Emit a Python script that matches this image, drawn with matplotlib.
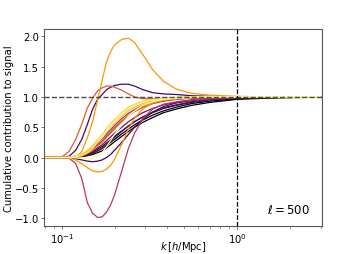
import numpy as np
import matplotlib
matplotlib.use('Agg')
import matplotlib.pyplot as plt

# k values (h/Mpc) shared by every curve
k = [0.08, 0.10, 0.11, 0.12, 0.13, 0.14, 0.15, 0.16, 0.17, 0.18, 0.19, 0.20,
     0.22, 0.24, 0.26, 0.29, 0.33, 0.38, 0.45, 0.55, 0.70, 1.0, 1.5, 3.0]

# cumulative contribution curves, one list per bin
black_1 = [0, 0, 0, 0.005, 0.015, 0.03, 0.05, 0.08, 0.11, 0.16, 0.21, 0.26, 0.35, 0.43, 0.50, 0.58, 0.66, 0.74, 0.80, 0.86, 0.91, 0.96, 0.98, 1.0]
black_2 = [0, 0, 0, 0.005, 0.02, 0.04, 0.07, 0.11, 0.15, 0.20, 0.25, 0.30, 0.39, 0.47, 0.54, 0.62, 0.70, 0.77, 0.83, 0.89, 0.93, 0.97, 0.99, 1.0]
black_3 = [0, 0, 0, 0.01, 0.025, 0.05, 0.09, 0.14, 0.18, 0.24, 0.29, 0.35, 0.44, 0.52, 0.59, 0.67, 0.74, 0.81, 0.86, 0.91, 0.95, 0.98, 0.99, 1.0]
purple_dip = [0, 0, -0.005, -0.02, -0.04, -0.06, -0.07, -0.06, -0.04, 0.0, 0.05, 0.12, 0.25, 0.38, 0.50, 0.63, 0.75, 0.84, 0.90, 0.94, 0.97, 0.99, 1.0, 1.0]
purple_peak = [0, 0, 0.02, 0.12, 0.30, 0.55, 0.80, 0.96, 1.04, 1.12, 1.16, 1.19, 1.21, 1.21, 1.18, 1.12, 1.07, 1.05, 1.04, 1.02, 1.01, 1.0, 1.0, 1.0]
purple_2 = [0, 0, 0.0, 0.005, 0.02, 0.04, 0.07, 0.11, 0.15, 0.21, 0.27, 0.33, 0.43, 0.52, 0.59, 0.67, 0.75, 0.82, 0.87, 0.92, 0.95, 0.98, 0.99, 1.0]
purple_3 = [0, 0, 0.0, 0.01, 0.03, 0.06, 0.10, 0.16, 0.21, 0.28, 0.34, 0.40, 0.50, 0.59, 0.66, 0.74, 0.81, 0.87, 0.91, 0.95, 0.97, 0.99, 1.0, 1.0]
magenta_1 = [0, 0, 0.0, 0.015, 0.04, 0.08, 0.14, 0.21, 0.27, 0.35, 0.42, 0.49, 0.60, 0.69, 0.76, 0.83, 0.89, 0.93, 0.96, 0.98, 0.99, 1.0, 1.0, 1.0]
magenta_2 = [0, 0, 0.005, 0.02, 0.05, 0.10, 0.16, 0.24, 0.31, 0.39, 0.46, 0.53, 0.64, 0.73, 0.79, 0.86, 0.91, 0.95, 0.97, 0.98, 0.99, 1.0, 1.0, 1.0]
crimson_dip = [0, 0, -0.01, -0.10, -0.35, -0.75, -0.92, -0.99, -0.98, -0.90, -0.78, -0.62, -0.22, 0.15, 0.40, 0.64, 0.80, 0.88, 0.92, 0.95, 0.97, 0.99, 1.0, 1.0]
red_peak = [0, 0.01, 0.10, 0.30, 0.55, 0.82, 0.98, 1.10, 1.15, 1.18, 1.18, 1.16, 1.11, 1.05, 1.0, 0.97, 0.97, 0.98, 0.99, 1.0, 1.0, 1.0, 1.0, 1.0]
orange_1 = [0, 0, 0.0, 0.01, 0.03, 0.07, 0.12, 0.19, 0.25, 0.33, 0.40, 0.47, 0.59, 0.69, 0.76, 0.84, 0.90, 0.94, 0.97, 0.99, 1.0, 1.0, 1.0, 1.0]
orange_dip = [0, 0, -0.01, -0.04, -0.10, -0.17, -0.22, -0.24, -0.23, -0.19, -0.13, -0.03, 0.22, 0.47, 0.65, 0.80, 0.90, 0.95, 0.97, 0.99, 1.0, 1.0, 1.0, 1.0]
orange_peak = [0, 0, 0, 0.0, 0.10, 0.33, 0.60, 0.95, 1.28, 1.58, 1.75, 1.86, 1.95, 1.97, 1.90, 1.70, 1.45, 1.26, 1.13, 1.06, 1.03, 1.01, 1.0, 1.0]
orange_2 = [0, 0, 0.005, 0.02, 0.05, 0.10, 0.17, 0.26, 0.33, 0.42, 0.50, 0.57, 0.68, 0.77, 0.83, 0.89, 0.93, 0.96, 0.98, 0.99, 1.0, 1.0, 1.0, 1.0]
yellow_1 = [0, 0, 0.005, 0.025, 0.06, 0.12, 0.20, 0.30, 0.38, 0.48, 0.56, 0.63, 0.74, 0.83, 0.88, 0.93, 0.96, 0.98, 0.99, 1.0, 1.0, 1.0, 1.0, 1.0]
yellow_2 = [0, 0, 0.0, 0.01, 0.03, 0.08, 0.15, 0.25, 0.33, 0.43, 0.51, 0.59, 0.70, 0.80, 0.86, 0.92, 0.95, 0.97, 0.99, 1.0, 1.0, 1.0, 1.0, 1.0]
yellow_3 = [0, 0, 0, -0.005, -0.01, -0.015, -0.01, 0.02, 0.08, 0.18, 0.28, 0.38, 0.54, 0.68, 0.77, 0.86, 0.92, 0.96, 0.98, 0.99, 1.0, 1.0, 1.0, 1.0]

curves = [black_1, black_2, black_3, purple_dip, purple_peak, purple_2, purple_3,
          magenta_1, magenta_2, crimson_dip, red_peak, orange_1, orange_dip,
          orange_peak, orange_2, yellow_1, yellow_2, yellow_3]
# position of each curve on the inferno colormap
cmap_pos = [0.0, 0.03, 0.07, 0.18, 0.2, 0.25, 0.3, 0.4, 0.45, 0.5, 0.62,
            0.7, 0.76, 0.77, 0.85, 0.9, 0.95, 0.99]

ell = 500

plt.rcParams['font.size'] = 7.2
fig = plt.figure(figsize=(3.57, 2.55), dpi=100)
ax = fig.add_axes([0.123, 0.110, 0.779, 0.772])

cmap = plt.get_cmap('inferno')
for y, c in zip(curves, cmap_pos):
    ax.plot(k, y, color=cmap(c), lw=0.9)

ax.axhline(1.0, color='0.3', ls='--', lw=1.0, zorder=5)
ax.axvline(1.0, color='k', ls='--', lw=0.9, zorder=5)

ax.set_xscale('log')
ax.set_xlim(0.079, 3.06)
ax.set_ylim(-1.13, 2.12)
ax.set_yticks([-1.0, -0.5, 0.0, 0.5, 1.0, 1.5, 2.0])
ax.set_xlabel(r'$k\,[h/\mathrm{Mpc}]$')
ax.xaxis.set_label_coords(0.5, -0.068)
ax.set_ylabel('Cumulative contribution to signal')
ax.yaxis.set_label_coords(-0.108, 0.5)
ax.text(0.957, 0.086, r'$\ell = %d$' % ell, transform=ax.transAxes,
        ha='right', va='center', fontsize=8.5)

for s in ax.spines.values():
    s.set_color('0.35')
ax.tick_params(which='both', color='0.35', length=2.5, width=0.6, pad=1.0)
ax.tick_params(which='minor', length=1.5)

fig.savefig('out.png', dpi=100)
